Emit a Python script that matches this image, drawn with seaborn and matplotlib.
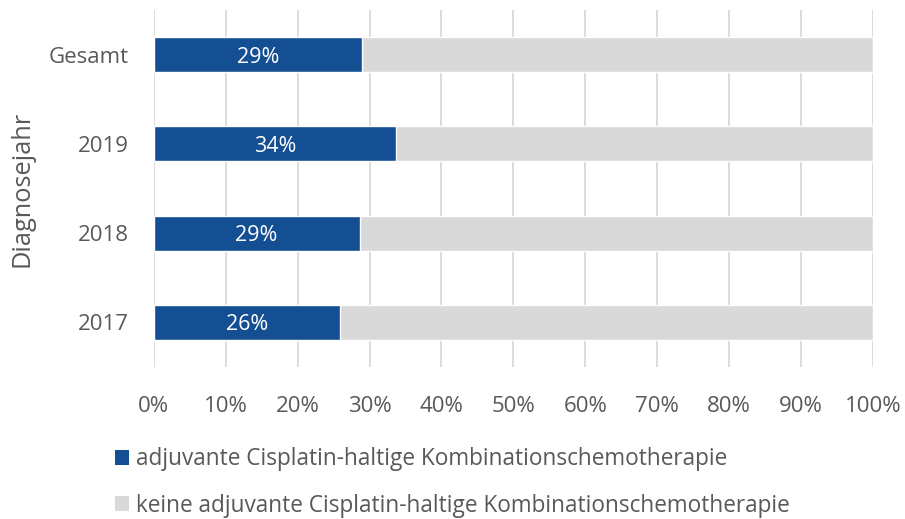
import matplotlib
matplotlib.use("Agg")
import matplotlib.pyplot as plt
import seaborn as sns
import pandas as pd
from matplotlib.patches import Patch
from matplotlib.ticker import FuncFormatter

categories = ["Gesamt", "2019", "2018", "2017"]
adjuvant = [28.9, 33.7, 28.6, 25.9]
total = [100, 100, 100, 100]
series_names = ["adjuvante Cisplatin-haltige Kombinationschemotherapie",
                "keine adjuvante Cisplatin-haltige Kombinationschemotherapie"]
xticks = [0, 10, 20, 30, 40, 50, 60, 70, 80, 90, 100]

BLUE = "#154F93"
GRAY = "#D9D9D9"
TEXT = "#595959"

sns.set_theme(style="white")
plt.rcParams['font.family'] = ['Open Sans', 'DejaVu Sans']

df = pd.DataFrame({"cat": categories, "adj": adjuvant, "tot": total})

fig = plt.figure(figsize=(9.05, 5.19), dpi=100)
ax = fig.add_axes([0.170, 0.2929, 0.7946, 0.6878])

sns.barplot(data=df, y="cat", x="tot", color=GRAY, width=0.39, ax=ax,
            saturation=1, order=categories, zorder=2)
sns.barplot(data=df, y="cat", x="adj", color=BLUE, width=0.39, ax=ax,
            saturation=1, order=categories, zorder=3)

blue_container = ax.containers[1]
texts = ax.bar_label(blue_container, labels=[f"{round(v)}%" for v in adjuvant],
                     label_type="center", color="white", fontsize=15.5)
for t in texts:
    t.set_verticalalignment("center_baseline")

ax.set_xlim(0, 100)
ax.set_xticks(xticks)
ax.xaxis.set_major_formatter(FuncFormatter(lambda v, p: f"{int(v)}%"))
ax.grid(axis="x", color="#D9D9D9", linewidth=1.3, zorder=0)
ax.set_axisbelow(True)
for s in ax.spines.values():
    s.set_visible(False)
ax.tick_params(axis="both", length=0, labelsize=16, labelcolor=TEXT)
ax.tick_params(axis="x", pad=21)
ax.tick_params(axis="y", pad=18)
ax.set_xlabel("")
ax.set_ylabel("Diagnosejahr", fontsize=18.3, color=TEXT)
ax.yaxis.set_label_coords(-0.166, 0.5)

handles = [Patch(facecolor=BLUE, edgecolor="none"), Patch(facecolor=GRAY, edgecolor="none")]
fig.legend(handles, series_names, loc="upper left", bbox_to_anchor=(0.127, 0.138),
           frameon=False, fontsize=16.3, handlelength=0.62, handleheight=0.62,
           handletextpad=0.3, labelspacing=0.98, borderpad=0, borderaxespad=0,
           labelcolor=TEXT)

fig.savefig("out.png", dpi=100)
